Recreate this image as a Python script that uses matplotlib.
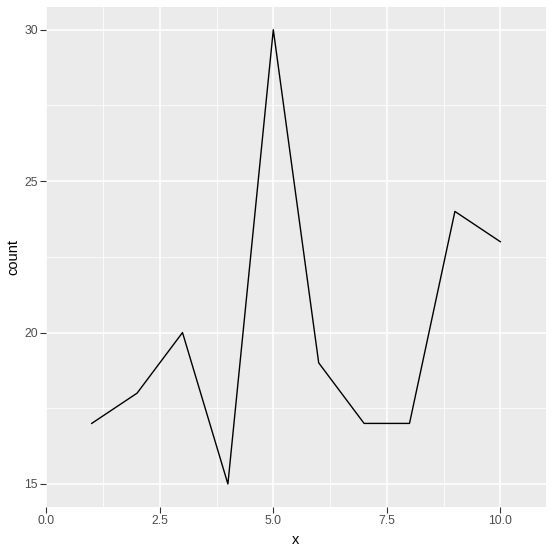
import matplotlib
matplotlib.use('Agg')
import matplotlib.pyplot as plt

plt.rcParams['font.family'] = ['Liberation Sans', 'DejaVu Sans']

# data
x = [1, 2, 3, 4, 5, 6, 7, 8, 9, 10]
count = [17, 18, 20, 15, 30, 19, 17, 17, 24, 23]
xticks = [0.0, 2.5, 5.0, 7.5, 10.0]
xticklabels = ['0.0', '2.5', '5.0', '7.5', '10.0']
yticks = [15, 20, 25, 30]

W, H = 553, 552
fig = plt.figure(figsize=(W / 100, H / 100), dpi=100)
left, right, top, bottom = 46.3, 545.7, 7.0, 506.7
ax = fig.add_axes([left / W, 1 - bottom / H, (right - left) / W, (bottom - top) / H])

ax.set_facecolor('#EBEBEB')
for s in ax.spines.values():
    s.set_visible(False)

ax.set_xlim(0, 11)
ax.set_ylim(14.25, 30.75)

# minor grid
for v in [1.25, 3.75, 6.25, 8.75]:
    ax.axvline(v, color='white', lw=0.55, zorder=0.5)
for v in [17.5, 22.5, 27.5]:
    ax.axhline(v, color='white', lw=0.55, zorder=0.5)
# major grid
for v in xticks:
    ax.axvline(v, color='white', lw=1.1, zorder=0.6)
for v in yticks:
    ax.axhline(v, color='white', lw=1.1, zorder=0.6)

ax.plot(x, count, color='black', lw=1.0, zorder=2)

ax.set_xticks(xticks)
ax.set_xticklabels(xticklabels)
ax.set_yticks(yticks)
ax.tick_params(axis='both', length=4, width=0.8, color='#333333',
               labelcolor='#4D4D4D', labelsize=8.8, pad=2)

ax.set_xlabel('x', fontsize=10.5, color='black', labelpad=4)
ax.set_ylabel('count', fontsize=10.5, color='black', labelpad=3)

fig.savefig('out.png', dpi=100)
